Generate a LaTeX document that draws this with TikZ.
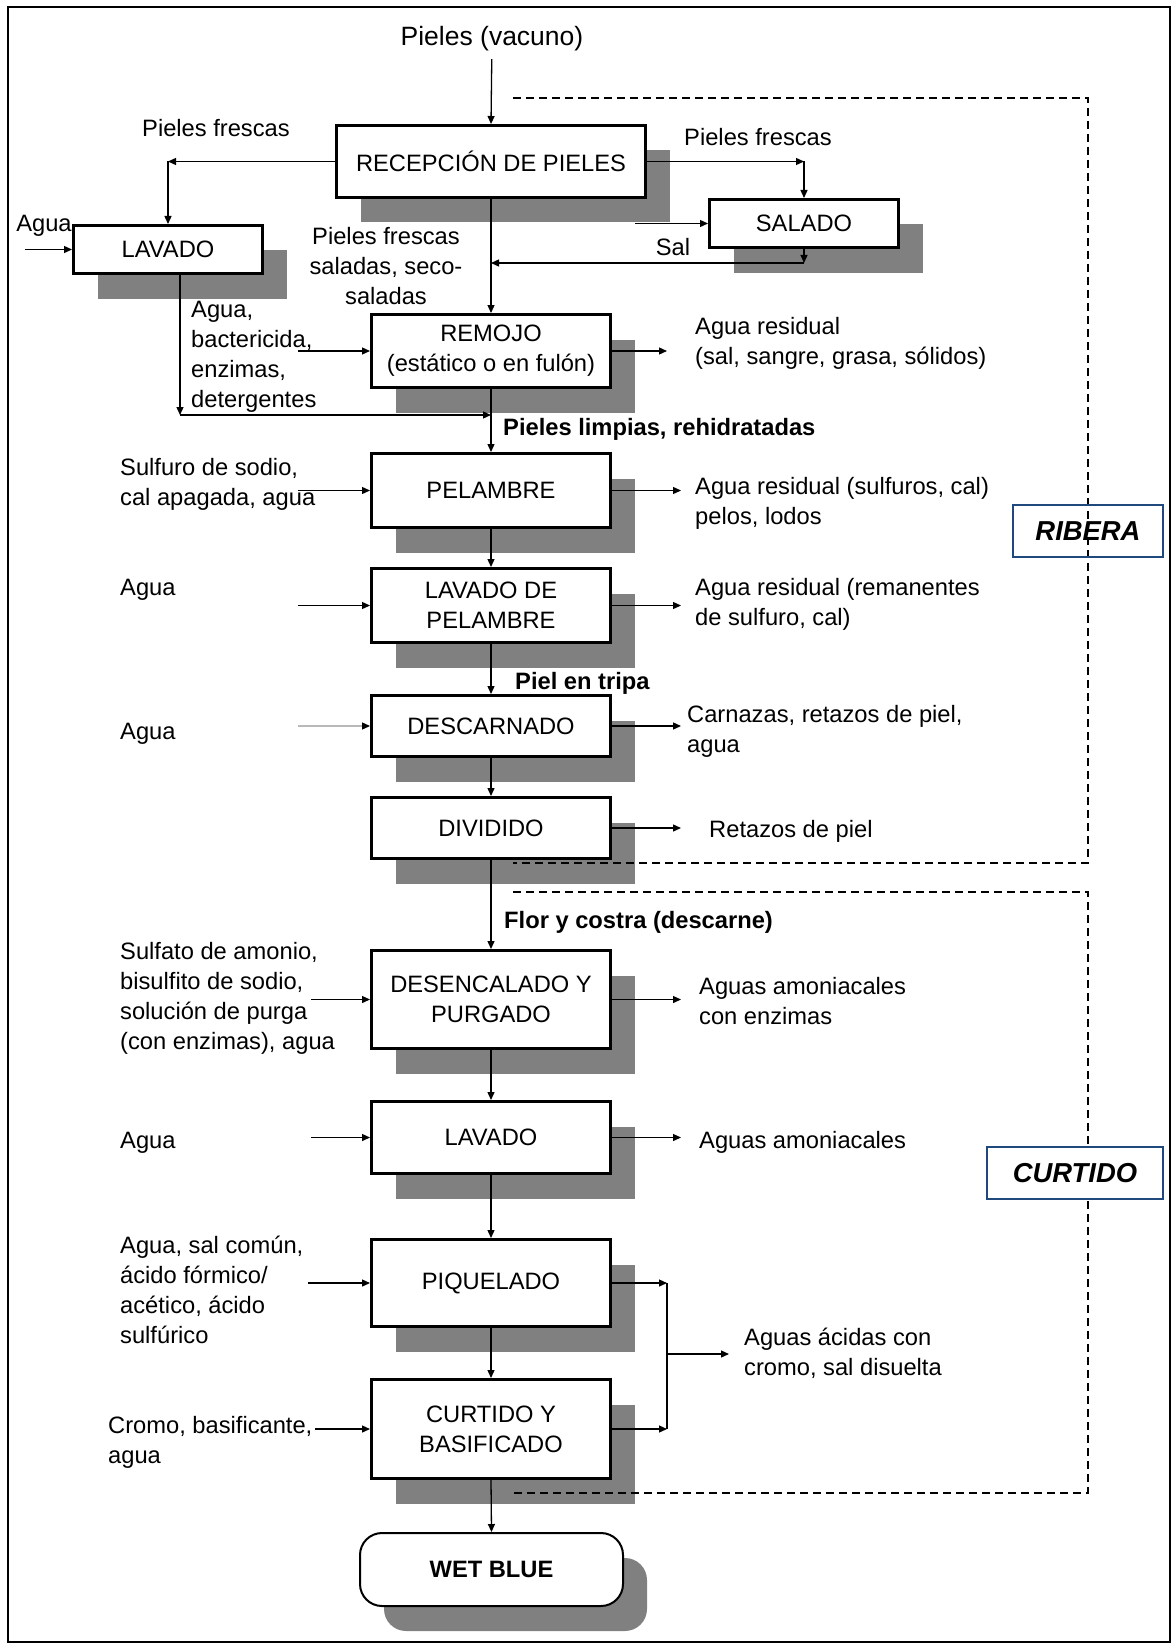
\documentclass[tikz,border=0pt]{standalone}
\usepackage{fontspec}
\setmainfont{Liberation Sans}
\usetikzlibrary{arrows.meta,shadows}
\definecolor{shd}{RGB}{128,128,128}
\definecolor{navy}{RGB}{31,73,125}
\begin{document}
\begin{tikzpicture}[x=1pt,y=-1pt,
  txt/.style={font=\fontsize{23.7}{30}\selectfont, inner sep=0pt},
  t1/.style={txt, text height=18pt, text depth=4pt},
  t1b/.style={t1, font=\fontsize{23.7}{30}\selectfont\bfseries},
  proc/.style={draw, line width=3pt, fill=white, align=center, txt,
    drop shadow={shadow xshift=24pt, shadow yshift=-25pt, fill=shd, opacity=1},
    minimum width=239pt},
  arr/.style={line width=1.3pt, -{Triangle[length=8pt,width=7pt]}},
  ln/.style={line width=1.3pt},
  zone/.style={line width=1.5pt, dash pattern=on 8pt off 5pt},
  zlabel/.style={draw=navy, line width=1.5pt, minimum height=52pt, inner sep=0pt,
    font=\fontsize{27.4}{30}\selectfont\bfseries\itshape}
]
\useasboundingbox (0,0) rectangle (1173,1645);
\draw[line width=2pt] (8,7) rectangle (1170,1642);

% process boxes
\node[proc, minimum width=309pt, minimum height=72pt] (recep) at (491,161.5) {RECEPCIÓN DE PIELES};
\node[proc, minimum width=189pt, minimum height=48pt] (salado) at (804,223.5) {SALADO};
\node[proc, minimum width=189pt, minimum height=48pt] (lav1) at (168,249.5) {LAVADO};
\node[proc, minimum height=73pt] (remojo) at (491,351) {REMOJO\\(estático o en fulón)};
\node[proc, minimum height=74pt] (pel) at (491,490.5) {PELAMBRE};
\node[proc, minimum height=74pt] (ldp) at (491,605.5) {LAVADO DE\\PELAMBRE};
\node[proc, minimum height=61pt] (desc) at (491,726) {DESCARNADO};
\node[proc, minimum height=61pt] (div) at (491,828) {DIVIDIDO};
\node[proc, minimum height=98pt] (desen) at (491,999.5) {DESENCALADO Y\\PURGADO};
\node[proc, minimum height=72pt] (lav2) at (491,1137.5) {LAVADO};
\node[proc, minimum height=87pt] (piq) at (491,1283) {PIQUELADO};
\node[proc, minimum height=99pt] (curt) at (491,1429) {CURTIDO Y\\BASIFICADO};
\node[proc, rounded corners=22pt, line width=2pt, minimum width=263pt, minimum height=73pt,
  font=\fontsize{23.7}{30}\selectfont\bfseries] (wet) at (491.5,1569.5) {WET BLUE};

% zones
\draw[zone] (513,98) -- (1088,98) -- (1088,863) -- (513,863);
\draw[zone] (513,892) -- (1088,892) -- (1088,1493) -- (513,1493);
\node[zlabel, minimum width=150pt] (ribera) at (1088,531) {RIBERA};
\node[zlabel, minimum width=176pt, fill=white] (curtido) at (1075,1173) {CURTIDO};

% title and top connectors
\node[t1, font=\fontsize{26.5}{30}\selectfont] (title) at (492,39) {Pieles (vacuno)};
\draw[arr, shorten <=9pt] (title) -- (recep.north);

\coordinate (cL) at (168,161.5);
\draw[arr] (recep.west) -- (cL);
\draw[arr] (cL) -- (lav1.north);
\coordinate (cR) at (804,161.5);
\draw[arr] (recep.east) -- (cR);
\draw[arr] (cR) -- (salado.north);
\coordinate (salIn) at (635,223.5);
\draw[arr] (salIn) -- (salado.west);
\coordinate (cS) at (804,263);
\coordinate (jS) at (491,263);
\draw[arr] (salado.south) -- (cS);
\draw[arr] (cS) -- (jS);
\coordinate (aguaIn) at (25,249.5);
\draw[arr] (aguaIn) -- (lav1.west);
\draw[arr] (recep.south) -- (remojo.north);
\coordinate (cW) at (180,415);
\coordinate (jW) at (491,415);
\draw[arr] (lav1.south -| cW) -- (cW);
\draw[arr] (cW) -- (jW);

% main flow
\draw[arr] (remojo.south) -- (pel.north);
\draw[arr] (pel.south) -- (ldp.north);
\draw[arr] (ldp.south) -- (desc.north);
\draw[arr] (desc.south) -- (div.north);
\draw[arr] (div.south) -- (desen.north);
\draw[arr] (desen.south) -- (lav2.north);
\draw[arr] (lav2.south) -- (piq.north);
\draw[arr] (piq.south) -- (curt.north);
\draw[arr] (curt.south) -- (wet.north);

% inputs
\coordinate (i1) at (298,351);
\coordinate (i2) at (298,490.5);
\coordinate (i3) at (298,605.5);
\coordinate (i4) at (298,726);
\coordinate (i5) at (311,999.5);
\coordinate (i6) at (311,1137.5);
\coordinate (i7) at (308,1283);
\coordinate (i8) at (315,1429);
\draw[arr] (i1) -- (remojo.west);
\draw[arr] (i2) -- (pel.west);
\draw[arr] (i3) -- (ldp.west);
\draw[line width=1.3pt, draw=gray!55, -{Triangle[length=8pt,width=7pt,color=black]}] (i4) -- (desc.west);
\draw[arr] (i5) -- (desen.west);
\draw[arr] (i6) -- (lav2.west);
\draw[arr] (i7) -- (piq.west);
\draw[arr] (i8) -- (curt.west);

% outputs
\coordinate (o1) at (667,351);
\coordinate (o2) at (681,490.5);
\coordinate (o3) at (681,605.5);
\coordinate (o4) at (681,726);
\coordinate (o5) at (681,828);
\coordinate (o6) at (681,999.5);
\coordinate (o7) at (681,1137.5);
\draw[arr] (remojo.east) -- (o1);
\draw[arr] (pel.east) -- (o2);
\draw[arr] (ldp.east) -- (o3);
\draw[arr] (desc.east) -- (o4);
\draw[arr] (div.east) -- (o5);
\draw[arr] (desen.east) -- (o6);
\draw[arr] (lav2.east) -- (o7);
\coordinate (pq) at (667,1283);
\coordinate (cq) at (667,1429);
\coordinate (mq) at (667,1354);
\coordinate (aq) at (729,1354);
\draw[arr] (piq.east) -- (pq);
\draw[arr] (curt.east) -- (cq);
\draw[ln] (pq) -- (cq);
\draw[arr] (mq) -- (aq);

% labels
\node[t1] (lpfL) at (216,130) {Pieles frescas};
\node[t1] (lpfR) at (758,139) {Pieles frescas};
\node[t1] (lagua0) at (44,225) {Agua};
\node[t1] (lsal) at (673,248) {Sal};
\node[txt, align=center] (lpfs) at (386,266) {Pieles frescas\\saladas, seco-\\saladas};
\node[txt, align=left, anchor=west] (lin1) at (191,357) {Agua,\\bactericida,\\enzimas,\\detergentes};
\node[t1b, anchor=west] (lpl) at (503,428) {Pieles limpias, rehidratadas};
\node[txt, align=left, anchor=west] (lo1) at (695,343) {Agua residual\\(sal, sangre, grasa, sólidos)};
\node[txt, align=left, anchor=west] (lin2) at (120,484.5) {Sulfuro de sodio,\\cal apagada, agua};
\node[txt, align=left, anchor=west] (lo2) at (695,503.5) {Agua residual (sulfuros, cal)\\pelos, lodos};
\node[t1, anchor=west] (lin3) at (120,588) {Agua};
\node[txt, align=left, anchor=west] (lo3) at (695,604) {Agua residual (remanentes\\de sulfuro, cal)};
\node[t1b, anchor=west] (lpt) at (515,682) {Piel en tripa};
\node[t1, anchor=west] (lin4) at (120,732) {Agua};
\node[txt, align=left, anchor=west] (lo4) at (687,731) {Carnazas, retazos de piel,\\agua};
\node[t1, anchor=west] (lo5) at (709,830) {Retazos de piel};
\node[t1b, anchor=west] (lfc) at (504,921) {Flor y costra (descarne)};
\node[txt, align=left, anchor=west] (lin5) at (120,998) {Sulfato de amonio,\\bisulfito de sodio,\\solución de purga\\(con enzimas), agua};
\node[txt, align=left, anchor=west] (lo6) at (699,1001.5) {Aguas amoniacales\\con enzimas};
\node[t1, anchor=west] (lin6) at (120,1141) {Agua};
\node[t1, anchor=west] (lo7) at (699,1141) {Aguas amoniacales};
\node[txt, align=left, anchor=west] (lin7) at (120,1290) {Agua, sal común,\\ácido fórmico/\\acético, ácido\\sulfúrico};
\node[txt, align=left, anchor=west] (lo8) at (744,1353) {Aguas ácidas con\\cromo, sal disuelta};
\node[txt, align=left, anchor=west] (lin8) at (108,1442.5) {Cromo, basificante,\\agua};
\end{tikzpicture}
\end{document}
